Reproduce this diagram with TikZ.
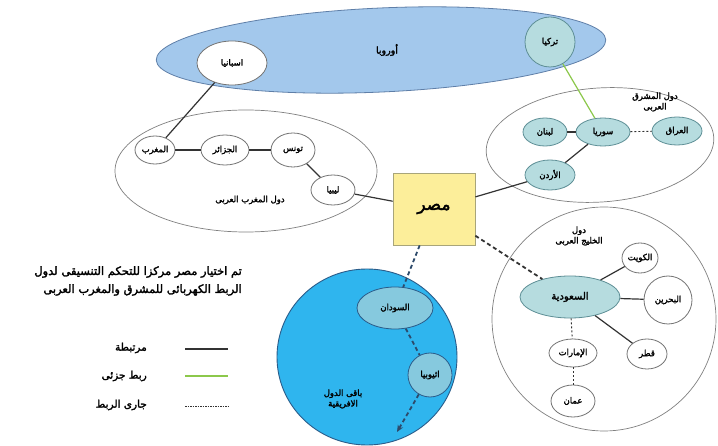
\documentclass[tikz,border=0pt]{standalone}
\usepackage{fontspec}
\newfontfamily\arfont[Script=Arabic, FakeBold=2.2]{DejaVu Sans}
\TeXXeTstate=1
\usetikzlibrary{shapes.geometric,arrows.meta}
\newcommand\artx[1]{{\arfont\beginR #1\endR}}
\definecolor{eufill}{HTML}{A3C8EC}
\definecolor{eudraw}{HTML}{5F7FA8}
\definecolor{tealfill}{HTML}{B6DCDF}
\definecolor{tealdraw}{HTML}{5E8F96}
\definecolor{afrfill}{HTML}{2FB5EE}
\definecolor{afrdraw}{HTML}{2A5C8A}
\definecolor{sudfill}{HTML}{86C9DE}
\definecolor{sudline}{HTML}{2D4A6B}
\definecolor{misrfill}{HTML}{FCEE9A}
\definecolor{misrdraw}{HTML}{A8A57A}
\definecolor{greenline}{HTML}{8CC84B}
\definecolor{darkline}{HTML}{333333}
\tikzset{
  region/.style={ellipse, draw=black!50, line width=0.7pt, fill=white, inner sep=0pt},
  wnode/.style={ellipse, draw=black!55, line width=0.8pt, fill=white, inner sep=0pt,
    font=\fontsize{8.5}{10}\selectfont},
  tnode/.style={wnode, fill=tealfill, draw=tealdraw},
  link/.style={draw=darkline, line width=1.2pt},
  dlink/.style={draw=darkline, line width=1.8pt, dash pattern=on 4pt off 3pt},
  tdash/.style={draw=darkline, line width=0.9pt, dash pattern=on 2pt off 2pt},
  glink/.style={draw=greenline, line width=1.2pt},
  title/.style={font=\fontsize{8.5}{10.5}\selectfont, align=center, inner sep=0pt},
}
\begin{document}
\begin{tikzpicture}[x=1pt,y=-1pt]
\useasboundingbox (0,0) rectangle (718,446);
\fill[white] (0,0) rectangle (718,446);

% Europe
\node[ellipse, draw=eudraw, line width=0.8pt, fill=eufill, minimum width=450pt,
  minimum height=84pt, rotate=2.6, inner sep=0pt] (europe) at (381,50) {};
\node[title, font=\fontsize{9.5}{11}\selectfont] (eutxt) at (387,50) {\artx{أوروبا}};
\node[wnode, minimum width=70pt, minimum height=44pt] (spain) at (232,63) {\artx{اسبانيا}};
\node[tnode, circle, minimum size=50pt] (turkey) at (550,42) {\artx{تركيا}};

% Maghreb
\node[region, minimum width=262pt, minimum height=122pt] (maghreb) at (246,171) {};
\node[wnode, minimum width=40pt, minimum height=28pt] (morocco) at (155,150) {\artx{المغرب}};
\node[wnode, minimum width=48pt, minimum height=30pt] (algeria) at (225,150) {\artx{الجزائر}};
\node[wnode, minimum width=44pt, minimum height=34pt] (tunisia) at (293,150) {\artx{تونس}};
\node[wnode, minimum width=44pt, minimum height=30pt] (libya) at (333,190) {\artx{ليبيا}};
\node[title] (maghtxt) at (250,200) {\artx{دول المغرب العربى}};

% Mashreq
\node[region, minimum width=228pt, minimum height=114pt, rotate=4] (mashreq) at (600,145) {};
\node[title] (mashtxt) at (655,102) {\artx{دول المشرق}\\\artx{العربى}};
\node[tnode, minimum width=54pt, minimum height=28pt] (syria) at (603,132) {\artx{سوريا}};
\node[tnode, minimum width=44pt, minimum height=28pt] (lebanon) at (545,132) {\artx{لبنان}};
\node[tnode, minimum width=50pt, minimum height=28pt] (iraq) at (677,131) {\artx{العراق}};
\node[tnode, minimum width=50pt, minimum height=30pt] (jordan) at (550,175) {\artx{الأردن}};

% Gulf
\node[region, circle, minimum size=224pt] (gulf) at (604,319) {};
\node[title] (gulftxt) at (579,236) {\artx{دول}\\\artx{الخليج العربى}};
\node[tnode, minimum width=100pt, minimum height=42pt, font=\fontsize{10}{12}\selectfont] (saudi) at (570,297) {\artx{السعودية}};
\node[wnode, minimum width=36pt, minimum height=30pt] (kuwait) at (640,258) {\artx{الكويت}};
\node[wnode, circle, minimum size=48pt] (bahrain) at (668,300) {\artx{البحرين}};
\node[wnode, minimum width=40pt, minimum height=30pt] (qatar) at (647,354) {\artx{قطر}};
\node[wnode, minimum width=48pt, minimum height=28pt] (uae) at (573,353) {\artx{الإمارات}};
\node[wnode, minimum width=44pt, minimum height=32pt] (oman) at (573,401) {\artx{عمان}};

% Africa
\node[ellipse, draw=afrdraw, line width=0.9pt, fill=afrfill, minimum width=180pt,
  minimum height=176pt, inner sep=0pt] (africa) at (367,357) {};
\node[wnode, fill=sudfill, draw=afrdraw, minimum width=76pt, minimum height=42pt] (sudan) at (395,308) {\artx{السودان}};
\node[wnode, fill=sudfill, draw=afrdraw, circle, minimum size=44pt] (ethiopia) at (430,375) {\artx{اثيوبيا}};
\node[title] (afrtxt) at (343,399) {\artx{باقى الدول}\\\artx{الافريقية}};
\coordinate (afrend) at (397,432);

% Egypt
\node[rectangle, draw=misrdraw, line width=0.8pt, fill=misrfill, minimum width=82pt,
  minimum height=72pt, font=\fontsize{17}{19}\selectfont] (misr) at (434,209) {\artx{مصر}};

% connectors
\draw[link] (spain) -- (morocco);
\draw[link] (morocco) -- (algeria);
\draw[link] (algeria) -- (tunisia);
\draw[link] (tunisia) -- (libya);
\draw[link] (libya) -- (misr);
\draw[link] (lebanon) -- (syria);
\draw[tdash] (syria) -- (iraq);
\draw[link] (syria) -- (jordan);
\draw[link] (jordan) -- (misr);
\draw[glink] (turkey) -- (syria);
\draw[dlink] (misr) -- (saudi);
\draw[link] (saudi) -- (kuwait);
\draw[link] (saudi) -- (bahrain);
\draw[link] (saudi) -- (qatar);
\draw[tdash] (saudi) -- (uae);
\draw[tdash] (uae) -- (oman);
\draw[dlink, draw=sudline] (misr) -- (sudan);
\draw[dlink, draw=sudline] (sudan) -- (ethiopia);
\draw[dlink, draw=sudline, -{Stealth[length=7pt,width=6pt]}] (ethiopia) -- (afrend);

% caption
\node[title, anchor=east, font=\fontsize{11.5}{13}\selectfont] (cap1) at (242,272) {\artx{تم اختيار مصر مركزا للتحكم التنسيقى لدول}};
\node[title, anchor=east, font=\fontsize{11.5}{13}\selectfont] (cap2) at (242,290) {\artx{الربط الكهربائى للمشرق والمغرب العربى}};

% legend
\node[title, anchor=east, font=\fontsize{10.5}{12}\selectfont] (lg1) at (147,348) {\artx{مرتبطة}};
\node[title, anchor=east, font=\fontsize{10.5}{12}\selectfont] (lg2) at (147,376) {\artx{ربط جزئى}};
\node[title, anchor=east, font=\fontsize{10.5}{12}\selectfont] (lg3) at (147,405) {\artx{جارى الربط}};
\coordinate (l1a) at (185,349); \coordinate (l1b) at (228,349);
\coordinate (l2a) at (185,376); \coordinate (l2b) at (228,376);
\coordinate (l3a) at (185,406); \coordinate (l3b) at (228,406);
\draw[darkline, line width=1.4pt] (l1a) -- (l1b);
\draw[glink] (l2a) -- (l2b);
\draw[darkline, line width=0.8pt, dash pattern=on 1.5pt off 1pt] (l3a) -- (l3b);
\end{tikzpicture}
\end{document}
